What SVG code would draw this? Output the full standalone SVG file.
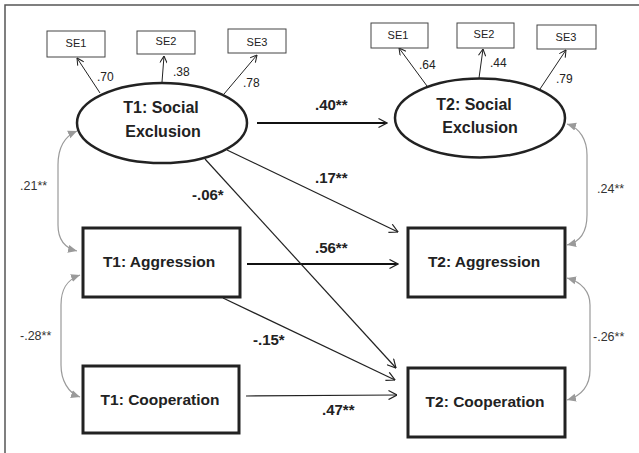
<svg xmlns="http://www.w3.org/2000/svg" width="639" height="453" viewBox="0 0 639 453">
<style>
text{font-family:"Liberation Sans",Arial,sans-serif;fill:#222}
.node{fill:#fff;stroke:#222;stroke-width:3}
.lat{fill:#fff;stroke:#222;stroke-width:2.5}
.se{fill:#fff;stroke:#444;stroke-width:1}
.set{font-size:11px;text-anchor:middle}
.nt{font-size:15.5px;font-weight:bold;text-anchor:middle}
.lt{font-size:16px;font-weight:bold;text-anchor:middle}
.sm{font-size:12px}
.cl{font-size:12.5px;fill:#333}
.bl{font-size:15px;font-weight:bold}
.ind{stroke:#222;stroke-width:1;fill:none;marker-end:url(#sa)}
.path{stroke:#222;stroke-width:1.2;fill:none;marker-end:url(#ma)}
.thick{stroke:#111;stroke-width:2.2}
.cor{stroke:#9a9a9a;stroke-width:1.2;fill:none;marker-start:url(#ga);marker-end:url(#ga)}
</style>
<defs>
<marker id="ma" viewBox="0 0 10 10" refX="9.5" refY="5" markerWidth="10" markerHeight="10" markerUnits="userSpaceOnUse" orient="auto">
<path d="M1,0.5 L9.5,5 L1,9.5" fill="none" stroke="#222" stroke-width="1.2"/>
</marker>
<marker id="sa" viewBox="0 0 10 10" refX="9.5" refY="5" markerWidth="8" markerHeight="8" markerUnits="userSpaceOnUse" orient="auto">
<path d="M1,0.5 L9.5,5 L1,9.5" fill="none" stroke="#222" stroke-width="1.3"/>
</marker>
<marker id="ga" viewBox="0 0 10 10" refX="10" refY="5" markerWidth="9" markerHeight="9" markerUnits="userSpaceOnUse" orient="auto-start-reverse">
<path d="M0,0.5 L10,5 L0,9.5 Z" fill="#9a9a9a"/>
</marker>
</defs>
<path d="M5,453 L5,5 L639,5" fill="none" stroke="#555" stroke-width="1.5"/>
<g id="connectors">
<path class="ind" d="M100,93 L77,58"/>
<path class="ind" d="M162,82 L164,56"/>
<path class="ind" d="M224,94 L257,55"/>
<path class="ind" d="M427,86 L399,48"/>
<path class="ind" d="M479,78 L483,49"/>
<path class="ind" d="M540,89 L566,50"/>
<path class="path thick" d="M257,123 L387,123"/>
<path class="path thick" d="M247,264 L398,264"/>
<path class="path" d="M246,396 L397,395" stroke="#444"/>
<path class="path" d="M227,150 L398,232"/>
<path class="path" d="M205,159 L396,368"/>
<path class="path" d="M223,298 L395,380"/>
<path class="cor" d="M77,131 C63,137 58,150 58,165 L58,225 C58,240 65,248 77,251"/>
<path class="cor" d="M80,275 C66,280 61,290 61,305 L61,365 C61,380 68,393 80,397"/>
<path class="cor" d="M567,124 C580,128 587,140 587,155 L587,215 C587,232 580,242 567,245"/>
<path class="cor" d="M567,278 C582,282 590,292 590,305 L590,370 C590,385 582,396 567,400"/>
<text class="sm" x="97" y="81">.70</text>
<text class="sm" x="173" y="76">.38</text>
<text class="sm" x="243" y="87">.78</text>
<text class="sm" x="419" y="69">.64</text>
<text class="sm" x="490" y="67">.44</text>
<text class="sm" x="556" y="83">.79</text>
<text class="cl" x="20" y="190">.21**</text>
<text class="cl" x="20" y="340">-.28**</text>
<text class="cl" x="597" y="193">.24**</text>
<text class="cl" x="593" y="341">-.26**</text>
<text class="bl" x="315" y="110">.40**</text>
<text class="bl" x="315" y="183">.17**</text>
<text class="bl" x="192" y="200">-.06*</text>
<text class="bl" x="315" y="253">.56**</text>
<text class="bl" x="253" y="345">-.15*</text>
<text class="bl" x="322" y="415">.47**</text>
</g>
<g id="t1_se1"><rect class="se" x="47" y="31" width="58" height="26"/><text class="set" x="76" y="47">SE1</text></g>
<g id="t1_se2"><rect class="se" x="137" y="31" width="58" height="23"/><text class="set" x="166" y="45">SE2</text></g>
<g id="t1_se3"><rect class="se" x="228" y="29" width="58" height="24"/><text class="set" x="257" y="46">SE3</text></g>
<g id="t2_se1"><rect class="se" x="371" y="23" width="57" height="25"/><text class="set" x="398" y="39">SE1</text></g>
<g id="t2_se2"><rect class="se" x="457" y="23" width="57" height="25"/><text class="set" x="484" y="38">SE2</text></g>
<g id="t2_se3"><rect class="se" x="537" y="25" width="59" height="24"/><text class="set" x="566" y="41">SE3</text></g>
<g id="t1_social"><ellipse class="lat" cx="162" cy="123" rx="85" ry="40"/><text class="lt" x="161" y="113">T1: Social</text><text class="lt" x="163" y="137">Exclusion</text></g>
<g id="t2_social"><ellipse class="lat" cx="480" cy="118" rx="85" ry="39.5"/><text class="lt" x="474" y="110">T2: Social</text><text class="lt" x="480" y="133">Exclusion</text></g>
<g id="t1_aggression"><rect class="node" x="83" y="228" width="157" height="69"/><text class="nt" x="159" y="267">T1: Aggression</text></g>
<g id="t1_cooperation"><rect class="node" x="83" y="366" width="156" height="67"/><text class="nt" x="160" y="405">T1: Cooperation</text></g>
<g id="t2_aggression"><rect class="node" x="408" y="228" width="157" height="69"/><text class="nt" x="484" y="267">T2: Aggression</text></g>
<g id="t2_cooperation"><rect class="node" x="408" y="368" width="157" height="69"/><text class="nt" x="485" y="407">T2: Cooperation</text></g>
</svg>
